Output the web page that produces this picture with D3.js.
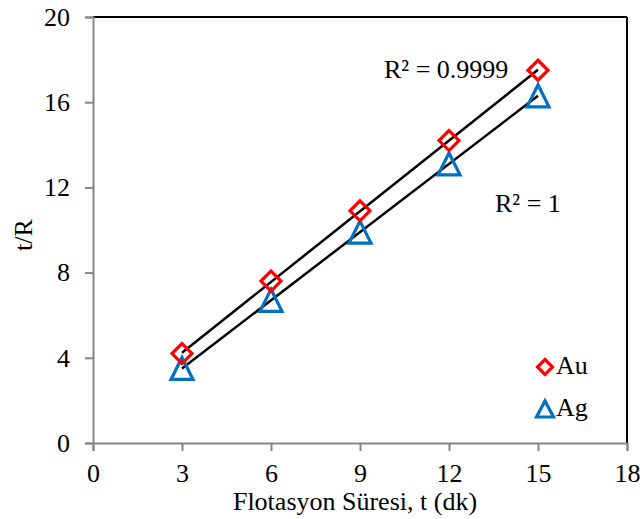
<!DOCTYPE html>
<html><head><meta charset="utf-8">
<script src="https://cdn.jsdelivr.net/npm/d3@7"></script>
<style>body{margin:0;background:#fff}svg{display:block}</style>
</head><body>
<svg id="c" width="640" height="519"></svg>
<script>
const times = [3, 6, 9, 12, 15];
const au = [4.2, 7.6, 10.9, 14.2, 17.5];
const ag = [3.5, 6.7, 9.9, 13.1, 16.3];
const xTicks = [0, 3, 6, 9, 12, 15, 18];
const yTicks = [0, 4, 8, 12, 16, 20];
const r2Labels = ["R² = 0.9999", "R² = 1"];
const seriesNames = ["Au", "Ag"];

const svg = d3.select("#c");
const L = 93, R = 627, T = 17, B = 443;
const x = d3.scaleLinear().domain([0, 18]).range([L, R]);
const y = d3.scaleLinear().domain([0, 20]).range([B, T]);
const font = "'Liberation Serif','Times New Roman',serif";
const fs = "26px";
const grey = "#868686";

// frame top/right black
svg.append("line").attr("x1", L).attr("x2", R).attr("y1", T).attr("y2", T).attr("stroke", "#000").attr("stroke-width", 2);
svg.append("line").attr("x1", R).attr("x2", R).attr("y1", T).attr("y2", B).attr("stroke", "#000").attr("stroke-width", 2);

const xAxis = svg.append("g").attr("transform", `translate(0,${B})`)
  .call(d3.axisBottom(x).tickValues(xTicks).tickSize(8).tickPadding(13));
const yAxis = svg.append("g").attr("transform", `translate(${L},0)`)
  .call(d3.axisLeft(y).tickValues(yTicks).tickSize(8).tickPadding(15));
[xAxis, yAxis].forEach(g => {
  g.attr("font-size", null).attr("font-family", null);
  g.select(".domain").attr("stroke", grey).attr("stroke-width", 2);
  g.selectAll(".tick line").attr("stroke", grey).attr("stroke-width", 2);
  g.selectAll(".tick text").attr("fill", "#000").style("font-family", font).style("font-size", fs);
});

// axis titles
svg.append("text").attr("x", 355).attr("y", 510).attr("text-anchor", "middle")
  .style("font-family", font).style("font-size", fs).text("Flotasyon Süresi, t (dk)");
svg.append("text").attr("transform", `translate(32,235) rotate(-90)`).attr("text-anchor", "middle")
  .style("font-family", font).style("font-size", fs).text("t/R");

function fit(xs, ys) {
  const n = xs.length, mx = d3.mean(xs), my = d3.mean(ys);
  let sxy = 0, sxx = 0;
  for (let i = 0; i < n; i++) { sxy += (xs[i] - mx) * (ys[i] - my); sxx += (xs[i] - mx) ** 2; }
  const m = sxy / sxx; return [m, my - m * mx];
}
[au, ag].forEach(vals => {
  const [m, b] = fit(times, vals);
  const x0 = d3.min(times), x1 = d3.max(times);
  svg.append("line").attr("x1", x(x0)).attr("y1", y(m * x0 + b)).attr("x2", x(x1)).attr("y2", y(m * x1 + b))
    .attr("stroke", "#000").attr("stroke-width", 2.5);
});

const diamond = s => `M0,${-s}L${s},0L0,${s}L${-s},0Z`;
const tri = (hw, up, down) => `M0,${-up}L${hw},${down}L${-hw},${down}Z`;

svg.selectAll(".ag").data(times).enter().append("path")
  .attr("transform", (d, i) => `translate(${x(d)},${y(ag[i])})`)
  .attr("d", tri(11, 11, 11)).attr("fill", "none").attr("stroke", "#0070C0").attr("stroke-width", 3.2)
  .attr("stroke-linejoin", "miter");
svg.selectAll(".au").data(times).enter().append("path")
  .attr("transform", (d, i) => `translate(${x(d)},${y(au[i])})`)
  .attr("d", diamond(10)).attr("fill", "none").attr("stroke", "#FF0000").attr("stroke-width", 3.2);

// R2 labels
svg.append("text").attr("x", 384).attr("y", 78).style("font-family", font).style("font-size", fs).text(r2Labels[0]);
svg.append("text").attr("x", 495).attr("y", 212).style("font-family", font).style("font-size", fs).text(r2Labels[1]);

// legend
svg.append("path").attr("transform", "translate(545,367)").attr("d", diamond(7.5)).attr("fill", "none").attr("stroke", "#FF0000").attr("stroke-width", 3.2);
svg.append("text").attr("x", 556).attr("y", 374).style("font-family", font).style("font-size", fs).text(seriesNames[0]);
svg.append("path").attr("transform", "translate(545,409)").attr("d", tri(8.5, 8, 8)).attr("fill", "none").attr("stroke", "#0070C0").attr("stroke-width", 3.2);
svg.append("text").attr("x", 556).attr("y", 416).style("font-family", font).style("font-size", fs).text(seriesNames[1]);
</script>
</body></html>
